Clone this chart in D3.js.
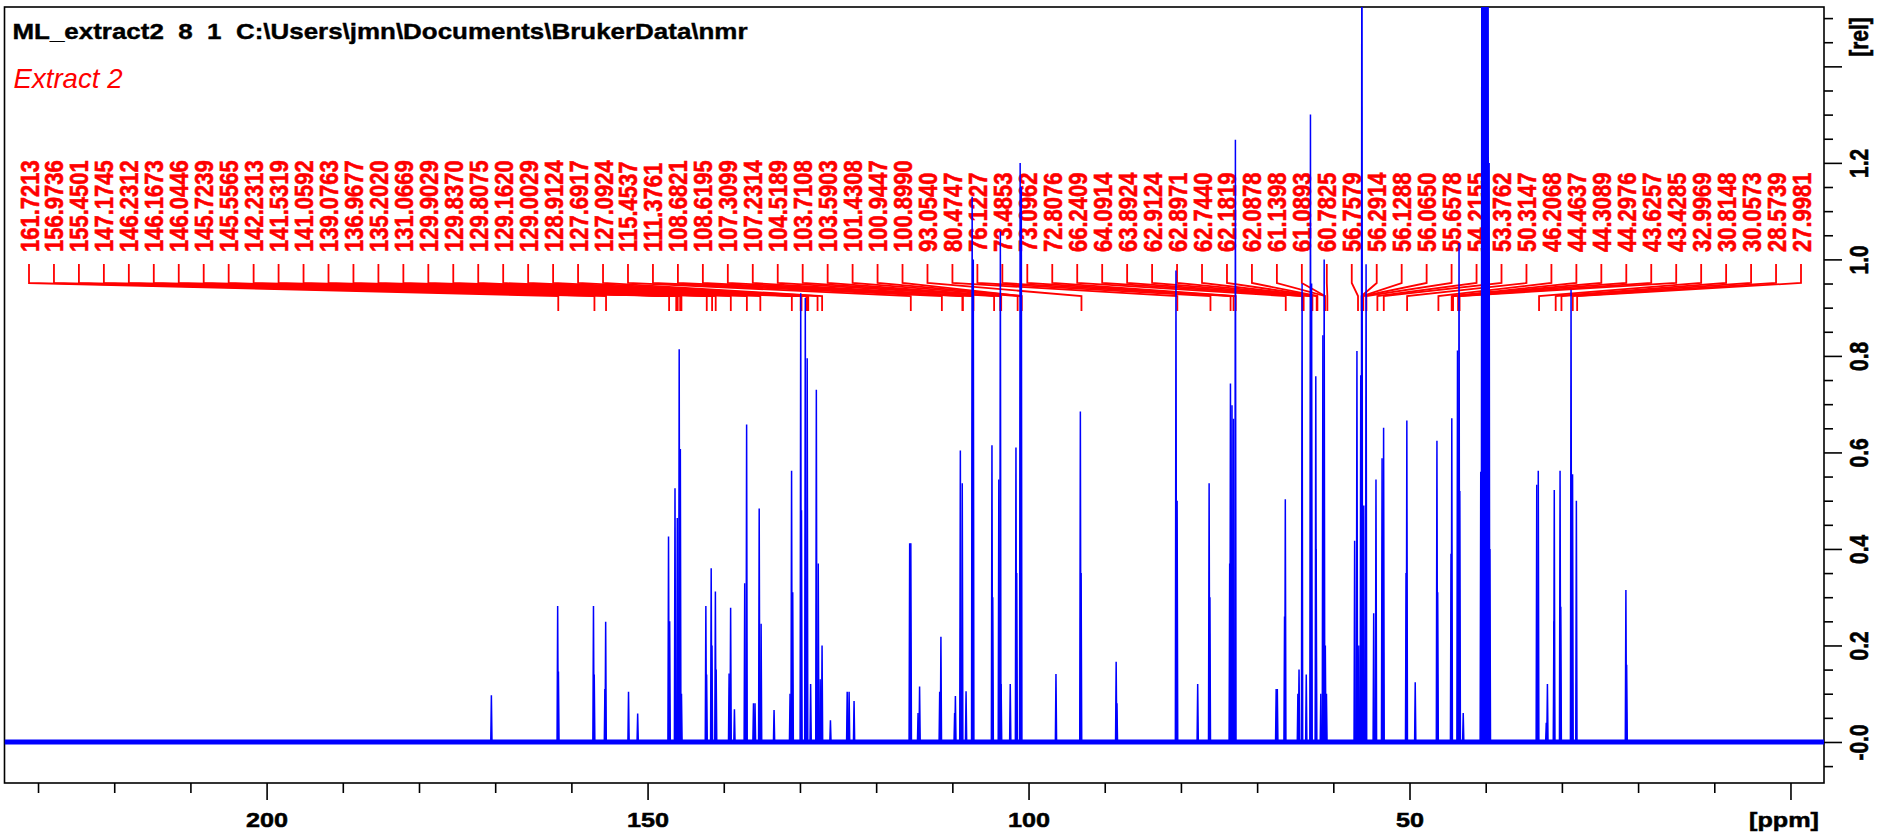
<!DOCTYPE html>
<html>
<head>
<meta charset="utf-8">
<script src="https://cdn.jsdelivr.net/npm/d3@7"></script>
<style>
  body { margin: 0; background: #fff; }
  svg { display: block; font-family: "Liberation Sans", Arial, sans-serif; }
</style>
</head>
<body>
<div id="chart"></div>
<script>
// Bruker TopSpin 13C spectrum, Extract 2

const titleText = 'ML_extract2  8  1  C:\\Users\\jmn\\Documents\\BrukerData\\nmr';
const sampleName = 'Extract 2';

// picked peak labels (ppm), left to right
const peakLabels = [
  161.7213, 156.9736, 155.4501, 147.1745, 146.2312, 146.1673, 146.0446, 145.7239,
  145.5565, 142.2313, 141.5319, 141.0592, 139.0763, 136.9677, 135.2020, 131.0669,
  129.9029, 129.8370, 129.8075, 129.1620, 129.0029, 128.9124, 127.6917, 127.0924,
  115.4537, 111.3761, 108.6821, 108.6195, 107.3099, 107.2314, 104.5189, 103.7108,
  103.5903, 101.4308, 100.9447, 100.8990, 93.0540, 80.4747, 76.1227, 73.4853,
  73.0962, 72.8076, 66.2409, 64.0914, 63.8924, 62.9124, 62.8971, 62.7440,
  62.1819, 62.0878, 61.1398, 61.0893, 60.7825, 56.7579, 56.2914, 56.1288,
  56.0650, 55.6578, 54.2155, 53.3762, 50.3147, 46.2068, 44.4637, 44.3089,
  44.2976, 43.6257, 43.4285, 32.9969, 30.8148, 30.0573, 28.5739, 27.9981
];

// spectrum lines: position (ppm) and relative intensity
const specPpm = [
  170.5, 161.8, 161.7, 157.1, 157.0, 155.6, 155.5, 152.5, 151.3, 147.25, 147.1,
  146.4, 146.1, 145.85, 145.7, 145.55, 142.35, 142.25, 141.65, 141.55, 141.1, 141.0,
  139.3, 139.1, 138.6, 137.25, 137.0, 136.1, 135.9, 135.35, 135.1, 133.4, 131.3,
  131.1, 130.95, 129.9, 129.8, 129.3, 129.05, 128.6, 127.85, 127.6, 127.35, 127.1,
  126.0, 123.8, 123.55, 122.9,
  115.6, 115.45, 114.5, 114.3, 111.66, 111.5, 109.7, 109.6, 108.95, 108.7, 108.2,
  107.4, 107.25, 104.8, 104.7, 103.9, 103.7, 103.6, 102.4, 101.65, 101.55, 101.1,
  100.95, 96.4, 93.2, 93.1, 88.5, 88.4, 80.65, 80.5, 77.8, 76.3, 76.2,
  73.6, 73.5, 73.3, 73.1, 72.85, 67.5, 67.35, 66.4, 66.3, 64.65, 64.5, 64.1,
  63.55, 63.0, 62.85, 62.3, 62.25, 61.64, 61.37, 61.2, 61.05, 60.9,
  57.2, 56.9, 56.65, 56.4, 56.25, 56.0, 55.7, 54.7, 54.4, 53.6, 53.4, 50.45, 50.35,
  49.25, 46.4, 46.3, 44.55, 44.45, 43.7, 43.5, 43.4, 42.95,
  40.65, 40.5, 40.35, 40.2, 40.0, 39.85, 39.7, 39.55, 39.45,
  33.3, 33.1, 32.05, 31.9, 31.05, 31.0, 30.24, 30.15, 28.8, 28.6, 28.1, 21.6, 21.5
];
const specInt = [
  0.097, 0.282, 0.146, 0.282, 0.14, 0.11, 0.249, 0.104, 0.059, 0.426, 0.25,
  0.526, 0.464, 0.814, 0.607, 0.10, 0.282, 0.14, 0.36, 0.20, 0.312, 0.15,
  0.142, 0.278, 0.068, 0.329, 0.658, 0.08, 0.08, 0.484, 0.245, 0.066, 0.10,
  0.562, 0.31, 0.93, 0.48, 0.92, 0.795, 0.12, 0.73, 0.37, 0.13, 0.20,
  0.045, 0.104, 0.104, 0.085,
  0.412, 0.412, 0.06, 0.115, 0.104, 0.218, 0.06, 0.095, 0.604, 0.536, 0.105,
  1.13, 1.0, 0.615, 0.30, 0.544, 1.058, 0.12, 0.12, 0.61, 0.35, 1.2,
  1.15, 0.141, 0.685, 0.35, 0.166, 0.08, 0.977, 0.50, 0.12, 0.536, 0.30,
  0.37, 0.743, 0.698, 0.67, 1.248, 0.11, 0.11, 0.26, 0.503, 0.10, 0.15, 0.95,
  0.14, 1.30, 0.95, 0.758, 0.40, 0.10, 0.843, 1.0, 0.20, 0.10,
  0.417, 0.81, 0.20, 0.76, 2.0, 0.49, 0.99, 0.267, 0.544, 0.588, 0.651, 0.35, 0.666,
  0.124, 0.624, 0.31, 0.39, 0.671, 0.811, 1.034, 0.52, 0.06,
  0.56, 1.9, 3.0, 4.0, 4.0, 3.0, 2.0, 1.2, 0.4,
  0.533, 0.562, 0.04, 0.12, 0.25, 0.522, 0.562, 0.28, 0.937, 0.555, 0.50, 0.315, 0.16
];

const xMajorLabels = [200, 150, 100, 50];
const yMajorLabels = ['-0.0', '0.2', '0.4', '0.6', '0.8', '1.0', '1.2'];

const W = 1879, H = 835;
const frame = {left: 4.5, right: 1824, top: 7, bottom: 783};
const stretch = 1.2; // screen text is wider than tall

const svg = d3.select('#chart').append('svg')
  .attr('width', W)
  .attr('height', H);

const x = d3.scaleLinear().domain([234.4, -4.4]).range([frame.left, frame.right]);
const y = d3.scaleLinear().domain([-0.085, 1.523]).range([frame.bottom, frame.top]);

// title lines
svg.append('text')
  .attr('x', 12.5).attr('y', 39)
  .attr('textLength', 735).attr('lengthAdjust', 'spacingAndGlyphs')
  .style('white-space', 'pre')
  .style('font-size', '22px').style('font-weight', 'bold')
  .attr('fill', '#000').attr('stroke', '#000').attr('stroke-width', 0.4)
  .text(titleText);

svg.append('text')
  .attr('x', 13.5).attr('y', 88)
  .attr('textLength', 109).attr('lengthAdjust', 'spacingAndGlyphs')
  .style('font-size', '28px').style('font-style', 'italic')
  .attr('fill', '#ff0000')
  .text(sampleName);

// x axis: minor every 10 ppm, major every 50
const xTickVals = d3.range(0, 24).map(i => i * 10);
svg.append('g')
  .attr('transform', `translate(0,${frame.bottom})`)
  .call(d3.axisBottom(x).tickValues(xTickVals.filter(v => v % 50 !== 0)).tickSize(10).tickFormat(''))
  .call(g => g.select('.domain').remove())
  .call(g => g.selectAll('line').attr('stroke', '#000').attr('stroke-width', 1.6));

const xAxis = svg.append('g')
  .attr('transform', `translate(0,${frame.bottom})`)
  .call(d3.axisBottom(x).tickValues(xMajorLabels.concat([0])).tickSize(17)
    .tickFormat(d => d === 0 ? '' : d));
xAxis.select('.domain').remove();
xAxis.selectAll('line').attr('stroke', '#000').attr('stroke-width', 1.6);
xAxis.selectAll('text')
  .attr('y', 0).attr('dy', null)
  .attr('transform', `translate(0,44) scale(${stretch},1)`)
  .attr('fill', '#000').attr('stroke', '#000').attr('stroke-width', 0.5)
  .style('font-size', '21px').style('font-weight', 'bold')
  .style('font-family', '"Liberation Sans", Arial, sans-serif');

svg.append('text')
  .attr('transform', `translate(1784,827) scale(${stretch},1)`)
  .attr('text-anchor', 'middle')
  .attr('stroke', '#000').attr('stroke-width', 0.5)
  .style('font-size', '21px').style('font-weight', 'bold')
  .text('[ppm]');

// y axis on the right
const yTickVals = d3.range(-1, 31).map(i => +(i * 0.05).toFixed(2));
svg.append('g')
  .attr('transform', `translate(${frame.right},0)`)
  .call(d3.axisRight(y).tickValues(yTickVals.filter((v, i) => (i - 1) % 4 !== 0)).tickSize(9).tickFormat(''))
  .call(g => g.select('.domain').remove())
  .call(g => g.selectAll('line').attr('stroke', '#000').attr('stroke-width', 1.6));

const yMajorVals = yTickVals.filter((v, i) => (i - 1) % 4 === 0);
const yAxis = svg.append('g')
  .attr('transform', `translate(${frame.right},0)`)
  .call(d3.axisRight(y).tickValues(yMajorVals).tickSize(18)
    .tickFormat((d, i) => yMajorLabels[i] || ''));
yAxis.select('.domain').remove();
yAxis.selectAll('line').attr('stroke', '#000').attr('stroke-width', 1.6);
yAxis.selectAll('text')
  .attr('x', 0).attr('dy', null)
  .attr('text-anchor', 'middle')
  .attr('transform', `translate(44,0) scale(${stretch},1) rotate(-90)`)
  .attr('fill', '#000').attr('stroke', '#000').attr('stroke-width', 0.5)
  .style('font-size', '21px').style('font-weight', 'bold')
  .style('font-family', '"Liberation Sans", Arial, sans-serif');

svg.append('text')
  .attr('transform', `translate(1868,37) scale(${stretch},1) rotate(-90)`)
  .attr('text-anchor', 'middle')
  .attr('stroke', '#000').attr('stroke-width', 0.5)
  .style('font-size', '21px').style('font-weight', 'bold')
  .text('[rel]');

// plot frame
svg.append('rect')
  .attr('x', frame.left).attr('y', frame.top)
  .attr('width', frame.right - frame.left)
  .attr('height', frame.bottom - frame.top)
  .attr('fill', 'none')
  .attr('stroke', '#000')
  .attr('stroke-width', 1.6);

svg.append('clipPath').attr('id', 'plot-clip')
  .append('rect')
  .attr('x', frame.left).attr('y', frame.top)
  .attr('width', frame.right - frame.left)
  .attr('height', frame.bottom - frame.top);

// peak labels, spread evenly and tied to their peak position
const labelX = d3.scalePoint().domain(d3.range(peakLabels.length)).range([29, 1801]);
const labels = svg.append('g').attr('class', 'peak-labels');

labels.selectAll('path')
  .data(peakLabels)
  .enter()
  .append('path')
  .attr('d', (d, i) => {
    const lx = labelX(i), px = x(d);
    return `M${lx},264L${lx},283L${px},296L${px},311`;
  })
  .attr('fill', 'none')
  .attr('stroke', '#ff0000')
  .attr('stroke-width', 1.8);

labels.selectAll('text')
  .data(peakLabels)
  .enter()
  .append('text')
  .attr('transform', (d, i) => `translate(${labelX(i) + 9.5},252) scale(${stretch},1) rotate(-90)`)
  .attr('fill', '#ff0000')
  .attr('stroke', '#ff0000').attr('stroke-width', 0.5)
  .style('font-size', '22px').style('font-weight', 'bold')
  .text(d => d.toFixed(4));

// spectrum
const plot = svg.append('g').attr('clip-path', 'url(#plot-clip)');
const line = d3.line().x(d => x(d[0])).y(d => y(d[1]));

plot.append('path')
  .attr('d', line([[x.domain()[0], 0], [x.domain()[1], 0]]))
  .attr('stroke', '#0000ff')
  .attr('stroke-width', 5)
  .attr('fill', 'none');

const peaks = specPpm.map((p, i) => ({ppm: p, h: specInt[i]}));
plot.selectAll('.peak')
  .data(peaks)
  .enter()
  .append('path')
  .attr('class', 'peak')
  .attr('d', d => line([[d.ppm + 0.08, 0], [d.ppm, d.h], [d.ppm - 0.08, 0]]))
  .attr('fill', '#0000ff')
  .attr('stroke', '#0000ff')
  .attr('stroke-width', 1.5);
</script>
</body>
</html>
